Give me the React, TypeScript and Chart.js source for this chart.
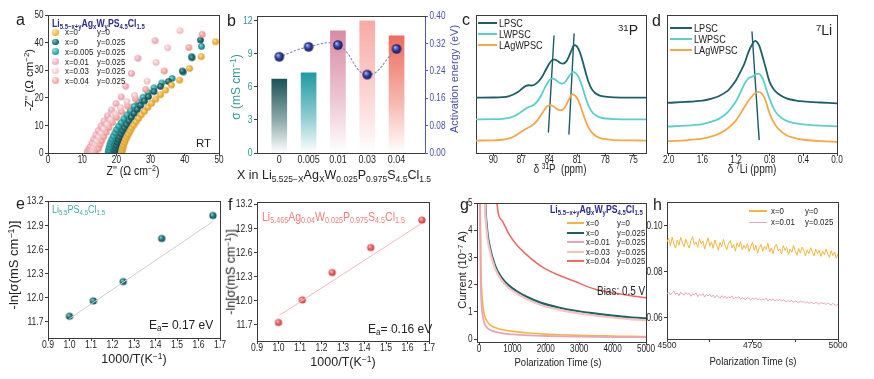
import React, { useEffect, useRef } from "react";
import { Chart, registerables } from "chart.js";
Chart.register(...registerables);

const FONT = "'Liberation Sans',Arial,sans-serif";

// ---------------- Panel a : Nyquist plots (Z', -Z'') ----------------
const NYQ_X0_Y0: number[][] = [[21.6,0.2],[21.7,1.0],[21.9,1.9],[22.1,2.8],[22.4,3.8],[22.7,4.8],[23.1,5.8],[23.5,6.8],[24.0,7.9],[24.5,9.0],[25.1,10.1],[25.8,11.3],[26.5,12.5],[27.3,13.8],[28.2,15.1],[29.2,16.5],[30.3,18.0],[31.5,19.5],[32.9,21.1],[34.4,22.8],[36.1,24.6],[38.5,26.4],[41.4,30.6],[44.8,34.9],[49.0,40.3]];
const NYQ_X0_Y025: number[][] = [[19.5,0.2],[19.6,1.0],[19.8,1.9],[20.0,2.8],[20.3,3.8],[20.6,4.8],[21.0,5.8],[21.4,6.9],[21.9,8.0],[22.4,9.1],[23.0,10.3],[23.7,11.6],[24.4,12.9],[25.2,14.3],[26.1,15.7],[27.1,17.2],[28.2,18.8],[29.4,20.4],[31.0,22.2],[32.9,24.1],[35.2,25.9],[39.3,29.7],[42.1,34.5],[44.6,40.9]];
const NYQ_X005: number[][] = [[17.6,0.2],[17.7,1.0],[17.9,2.0],[18.1,3.0],[18.4,4.0],[18.7,5.0],[19.1,6.1],[19.6,7.3],[20.1,8.5],[20.7,9.7],[21.4,11.0],[22.2,12.4],[23.1,13.8],[24.1,15.3],[25.2,16.9],[26.4,18.5],[27.8,20.2],[29.3,21.9],[31.0,23.6],[33.3,25.4],[36.3,27.0],[39.6,29.3],[42.0,35.0],[44.9,38.6]];
const NYQ_X01: number[][] = [[12.0,0.3],[12.2,1.3],[12.5,2.4],[12.9,3.6],[13.4,5.0],[14.0,6.5],[14.7,8.1],[15.5,9.8],[16.4,11.6],[17.4,13.5],[18.6,15.6],[19.9,17.9],[21.4,20.3],[22.7,24.2],[24.4,28.8],[26.3,34.3],[31.3,40.7]];
const NYQ_X03: number[][] = [[12.8,0.2],[13.0,1.1],[13.3,2.1],[13.7,3.2],[14.2,4.4],[14.8,5.8],[15.5,7.2],[16.3,8.8],[17.2,10.4],[18.3,12.2],[19.6,14.2],[21.2,16.4],[23.1,18.6],[25.3,20.9],[29.0,26.0],[31.6,32.8],[35.0,38.1],[38.6,44.3]];
const NYQ_X04: number[][] = [[11.5,0.5],[12.0,1.5],[13.0,1.0],[14.0,0.8],[14.8,1.6],[15.2,3.0],[15.7,4.4],[16.3,5.9],[17.0,7.5],[17.8,9.2],[18.8,11.0],[20.0,12.9],[21.5,14.9],[23.3,17.0],[25.6,19.6],[28.6,23.0],[34.0,29.7],[41.2,38.2],[45.1,43.0]];
const A_TICKS = [0, 10, 20, 30, 40, 50];

// ---------------- Panel b : conductivity bars + activation energy ----------------
const B_CATS = ["0", "0.005", "0.01", "0.03", "0.04"];
const B_SIGMA = [6.69, 7.26, 11.06, 11.96, 10.6];
const B_EA = [0.281, 0.310, 0.315, 0.229, 0.304];
const B_SIGMA_TICKS = [0, 3, 6, 9, 12];
const B_EA_TICKS = [0, 0.08, 0.16, 0.24, 0.32, 0.4];

// ---------------- Panel c : 31P NMR ----------------
const P31_LPSC: number[][] = [[92,40.1],[90,40.2],[89,40.5],[88.3,41.3],[87.8,42.6],[87.3,44.6],[86.9,46.8],[86.5,48.6],[86.2,49.1],[85.9,48.9],[85.6,49.5],[85.2,51.5],[84.8,55.0],[84.4,60.0],[84.0,64.8],[83.7,67.3],[83.4,67.6],[83.1,66.6],[82.8,65.2],[82.5,64.8],[82.2,66.2],[81.9,70.0],[81.6,74.8],[81.4,77.6],[81.2,78.0],[81.0,76.8],[80.7,72.5],[80.4,65.8],[80.1,58.2],[79.8,51.5],[79.5,46.8],[79.1,43.5],[78.6,41.6],[78.0,40.8],[77.0,40.3],[75,40.1],[73.6,40.1]];
const P31_LWPSC: number[][] = [[92,24.4],[90,24.5],[89,24.8],[88.3,25.5],[87.8,26.6],[87.3,28.4],[86.9,30.4],[86.5,32.3],[86.1,33.5],[85.7,34.8],[85.3,37.2],[84.9,41.5],[84.5,47.0],[84.1,51.8],[83.8,53.8],[83.5,53.7],[83.2,52.3],[82.9,50.8],[82.6,50.3],[82.3,51.5],[82.0,54.5],[81.7,57.6],[81.5,58.7],[81.3,58.5],[81.0,56.5],[80.7,52.5],[80.4,46.5],[80.1,39.8],[79.8,34.3],[79.5,30.5],[79.1,27.6],[78.6,25.8],[78.0,25.0],[77.0,24.6],[75,24.4],[73.6,24.4]];
const P31_LAGWPSC: number[][] = [[92,9.0],[90,9.2],[89,9.6],[88.3,10.6],[87.8,12.0],[87.3,14.0],[86.9,15.9],[86.5,17.5],[86.1,19.0],[85.7,20.8],[85.3,23.5],[84.9,27.5],[84.5,31.5],[84.2,34.0],[83.9,34.7],[83.6,34.0],[83.3,32.4],[83.0,31.2],[82.7,31.0],[82.4,32.5],[82.1,36.0],[81.8,40.0],[81.6,42.2],[81.4,42.3],[81.1,40.5],[80.8,36.5],[80.5,30.8],[80.2,24.8],[79.9,19.8],[79.6,16.2],[79.2,13.2],[78.7,11.2],[78.0,10.0],[77.0,9.4],[75,9.1],[73.6,9.0]];
const P31_GUIDE1: number[][] = [[84.1,15.2],[83.5,84.8]];
const P31_GUIDE2: number[][] = [[81.9,13.8],[81.35,86.2]];
const P31_TICKS = [90, 87, 84, 81, 78, 75];

// ---------------- Panel d : 7Li NMR ----------------
const LI7_LPSC: number[][] = [[2.0,36.4],[1.8,37.0],[1.6,38.0],[1.5,39.3],[1.4,41.3],[1.3,45.0],[1.25,48.5],[1.2,52.7],[1.15,58.5],[1.1,64.8],[1.05,73.5],[1.0,79.5],[0.97,81.2],[0.93,78.5],[0.9,73.2],[0.85,62.3],[0.8,51.4],[0.75,46.0],[0.7,43.0],[0.6,39.6],[0.5,38.2],[0.4,37.4],[0.2,36.6],[0.0,36.0]];
const LI7_LWPSC: number[][] = [[2.0,19.2],[1.8,19.8],[1.6,21.0],[1.5,22.5],[1.4,24.9],[1.3,29.5],[1.2,37.5],[1.15,43.5],[1.1,50.0],[1.05,54.3],[1.0,55.5],[0.96,57.2],[0.92,57.3],[0.88,53.5],[0.85,48.0],[0.8,39.0],[0.75,32.0],[0.7,27.5],[0.6,23.3],[0.5,21.6],[0.4,20.7],[0.2,19.8],[0.0,19.3]];
const LI7_LAGWPSC: number[][] = [[2.0,8.6],[1.8,9.2],[1.6,10.4],[1.5,11.8],[1.4,14.0],[1.3,17.7],[1.2,23.7],[1.15,28.3],[1.1,33.3],[1.05,38.0],[1.0,41.8],[0.96,43.8],[0.92,44.2],[0.88,42.0],[0.85,38.2],[0.8,28.5],[0.75,22.0],[0.7,17.7],[0.6,12.8],[0.5,10.8],[0.4,9.6],[0.2,8.6],[0.0,8.1]];
const LI7_GUIDE: number[][] = [[1.01,87.7],[0.925,9.7]];
const LI7_TICKS = [2.0, 1.6, 1.2, 0.8, 0.4, 0.0];

// ---------------- Panels e, f : Arrhenius ----------------
const INV_T = [1.0, 1.111, 1.25, 1.429, 1.667];
const E_LNSIG = [11.77, 11.96, 12.2, 12.735, 13.02];
const E_FIT: number[][] = [[1.0, 11.74], [1.664, 12.94]];
const F_LNSIG = [11.73, 12.01, 12.35, 12.66, 13.0];
const F_FIT: number[][] = [[1.005, 11.82], [1.66, 12.95]];
const EF_XTICKS = [0.9, 1.0, 1.1, 1.2, 1.3, 1.4, 1.5, 1.6, 1.7];
const EF_YTICKS = [11.7, 12.0, 12.3, 12.6, 12.9, 13.2];

// ---------------- Panel g : polarization current ----------------
const G_X0_Y0: number[][] = [[20,9],[40,4.5],[60,2.6],[80,1.8],[100,1.4],[150,0.95],[200,0.75],[300,0.56],[400,0.47],[500,0.41],[700,0.34],[1000,0.28],[1500,0.22],[2000,0.18],[2500,0.155],[3000,0.135],[3500,0.12],[4000,0.11],[4500,0.097],[5000,0.09]];
const G_X0_Y025: number[][] = [[150,9],[185,5.3],[230,4.2],[330,3.35],[480,2.7],[680,2.25],[880,1.98],[1100,1.78],[1380,1.58],[1880,1.32],[2380,1.16],[2880,1.04],[3380,0.95],[4000,0.86],[4500,0.8],[5000,0.76]];
const G_X001: number[][] = [[12,9],[30,4.4],[50,2.2],[70,1.4],[100,0.95],[150,0.62],[200,0.48],[300,0.36],[400,0.3],[500,0.26],[700,0.21],[1000,0.17],[1500,0.13],[2000,0.11],[2500,0.095],[3000,0.085],[3500,0.078],[4000,0.072],[4500,0.069],[5000,0.065]];
const G_X003: number[][] = [[140,9],[175,5.3],[220,4.12],[320,3.27],[470,2.62],[670,2.17],[870,1.9],[1100,1.7],[1380,1.5],[1880,1.24],[2380,1.08],[2880,0.97],[3380,0.88],[4000,0.79],[4500,0.73],[5000,0.69]];
const G_X004: number[][] = [[470,9],[530,5.1],[680,4.37],[880,3.89],[1100,3.5],[1380,3.15],[1880,2.66],[2380,2.35],[2880,2.11],[3480,1.83],[4000,1.7],[4500,1.6],[5000,1.52]];
const G_XTICKS = [0, 1000, 2000, 3000, 4000, 5000];
const G_YTICKS = [0, 1, 2, 3, 4, 5];

// ---------------- Panel h : zoomed polarization current ----------------
const H_TIME = [4500,4505,4510,4515,4520,4525,4530,4535,4540,4545,4550,4555,4560,4565,4570,4575,4580,4585,4590,4595,4600,4605,4610,4615,4620,4625,4630,4635,4640,4645,4650,4655,4660,4665,4670,4675,4680,4685,4690,4695,4700,4705,4710,4715,4720,4725,4730,4735,4740,4745,4750,4755,4760,4765,4770,4775,4780,4785,4790,4795,4800,4805,4810,4815,4820,4825,4830,4835,4840,4845,4850,4855,4860,4865,4870,4875,4880,4885,4890,4895,4900,4905,4910,4915,4920,4925,4930,4935,4940,4945,4950,4955,4960,4965,4970,4975,4980,4985,4990,4995,5000];
const H_X0_Y0 = [0.0930,0.0945,0.0912,0.0950,0.0921,0.0902,0.0938,0.0915,0.0949,0.0927,0.0908,0.0941,0.0919,0.0903,0.0936,0.0952,0.0917,0.0929,0.0906,0.0943,0.0921,0.0934,0.0898,0.0925,0.0947,0.0911,0.0930,0.0901,0.0938,0.0915,0.0893,0.0927,0.0909,0.0940,0.0912,0.0896,0.0923,0.0935,0.0904,0.0918,0.0889,0.0926,0.0907,0.0931,0.0895,0.0914,0.0900,0.0922,0.0887,0.0910,0.0928,0.0893,0.0915,0.0880,0.0904,0.0919,0.0889,0.0911,0.0897,0.0924,0.0885,0.0903,0.0877,0.0908,0.0920,0.0890,0.0899,0.0878,0.0913,0.0893,0.0906,0.0874,0.0898,0.0884,0.0915,0.0889,0.0871,0.0901,0.0880,0.0907,0.0892,0.0869,0.0895,0.0878,0.0904,0.0886,0.0868,0.0898,0.0879,0.0893,0.0866,0.0890,0.0873,0.0899,0.0877,0.0862,0.0891,0.0870,0.0885,0.0858,0.0876];
const H_X001_Y025 = [0.0704,0.0712,0.0698,0.0709,0.0716,0.0701,0.0707,0.0695,0.0711,0.0703,0.0697,0.0710,0.0700,0.0706,0.0693,0.0704,0.0699,0.0708,0.0691,0.0702,0.0696,0.0705,0.0689,0.0700,0.0694,0.0703,0.0690,0.0698,0.0686,0.0697,0.0692,0.0684,0.0696,0.0688,0.0693,0.0683,0.0691,0.0686,0.0695,0.0681,0.0689,0.0684,0.0692,0.0680,0.0687,0.0682,0.0679,0.0688,0.0683,0.0676,0.0685,0.0680,0.0686,0.0677,0.0683,0.0675,0.0681,0.0678,0.0684,0.0673,0.0680,0.0676,0.0682,0.0672,0.0678,0.0674,0.0680,0.0671,0.0677,0.0673,0.0668,0.0676,0.0670,0.0675,0.0667,0.0673,0.0669,0.0665,0.0672,0.0667,0.0670,0.0664,0.0669,0.0662,0.0668,0.0665,0.0660,0.0667,0.0663,0.0658,0.0666,0.0661,0.0664,0.0657,0.0663,0.0659,0.0655,0.0662,0.0657,0.0653,0.0658];
const H_XTICKS = [4500, 4625, 4750, 4875, 5000];
const H_XLABELS = ["4500", "", "4750", "", "5000"];
const H_YTICKS = [0.06, 0.08, 0.1];

// ---------------- colours ----------------
const C_YEL = "#f4b63f";
const C_DTEAL = "#1d5f66";
const C_PINK = "#e9a4ba";
const C_LPINK = "#f6c3c0";
const C_RED = "#ee6a68";
const C_LWPSC = "#5ccfcb";
const C_LAG = "#f5a84a";
const C_NAVY = "#2b2d8c";
const AXIS = "#3a3a3a";

// ---------------- helpers ----------------
const pts = (arr: number[][]) => arr.map(([x, y]) => ({ x, y }));

function sphere(r: number, base: string, light: string, dark: string) {
  const c = document.createElement("canvas");
  const s = Math.ceil(r * 2) + 2;
  c.width = s; c.height = s;
  const g = c.getContext("2d")!;
  const cx = s / 2, cy = s / 2;
  const grad = g.createRadialGradient(cx - r * 0.35, cy - r * 0.4, r * 0.05, cx, cy, r);
  grad.addColorStop(0, light);
  grad.addColorStop(0.55, base);
  grad.addColorStop(1, dark);
  g.fillStyle = grad;
  g.beginPath(); g.arc(cx, cy, r, 0, Math.PI * 2); g.fill();
  return c;
}

const framePlugin = {
  id: "frame",
  afterDraw(chart: any, _a: any, opts: any) {
    const { ctx, chartArea: a } = chart;
    ctx.save();
    ctx.strokeStyle = AXIS; ctx.lineWidth = 1;
    ctx.beginPath();
    const top = Math.round(a.top) + 0.5;
    ctx.moveTo(Math.round(a.left), top); ctx.lineTo(Math.round(a.right) + 1, top);
    if (opts.right !== false) {
      const r = Math.round(a.right) + 0.5;
      ctx.moveTo(r, a.top); ctx.lineTo(r, Math.round(a.bottom) + 1);
    }
    ctx.stroke();
    ctx.restore();
  },
};

// tick labels drawn from the scales' own ticks, horizontally condensed like the source figure
type Lbl = { size?: number; color?: string; sx?: number; gap?: number; fmt?: (v: number, i: number) => string };
function labelPlugin(labels: Record<string, Lbl>) {
  return {
    id: "tickLabels",
    afterDraw(chart: any) {
      const ctx = chart.ctx;
      for (const id of Object.keys(labels)) {
        const s = chart.scales[id];
        const o = labels[id];
        if (!s) continue;
        ctx.save();
        ctx.fillStyle = o.color || "#1e1e1e";
        ctx.font = `${o.size || 10}px ${FONT}`;
        ctx.textBaseline = "middle";
        s.ticks.forEach((t: any, i: number) => {
          const txt = o.fmt ? o.fmt(t.value, i) : String(t.value);
          if (!txt) return;
          const p = s.getPixelForValue(t.value);
          ctx.save();
          if (s.isHorizontal()) { ctx.translate(p, s.top + (o.gap ?? 7)); ctx.textAlign = "center"; }
          else if (s.position === "left") { ctx.translate(s.right - (o.gap ?? 4.5), p + 0.5); ctx.textAlign = "right"; }
          else { ctx.translate(s.left + (o.gap ?? 4.5), p + 0.5); ctx.textAlign = "left"; }
          ctx.scale(o.sx ?? 0.82, 1);
          ctx.fillText(txt, 0, 0);
          ctx.restore();
        });
        ctx.restore();
      }
    },
  };
}

function ax(p: any) {
  const line = p.line || AXIS;
  return {
    type: "linear",
    position: p.pos,
    min: p.min, max: p.max, reverse: !!p.rev, offset: false,
    afterBuildTicks: (s: any) => { s.ticks = (p.ticks || []).map((v: number) => ({ value: v })); },
    afterFit: (s: any) => { if (p.pos === "bottom") s.height = p.fit; else s.width = p.fit; },
    ticks: { display: false },
    grid: { drawOnChartArea: false, drawTicks: p.marks !== false, tickLength: 3, color: line, tickColor: line },
    border: { display: true, color: line, width: 1 },
  };
}

type Pad = [number, number, number, number];
function baseOpts(pad: Pad, scales: any, rightAxis = false) {
  return {
    responsive: false, animation: false, events: [],
    layout: { padding: { left: 0, top: pad[1], right: rightAxis ? 0 : pad[2], bottom: 0 } },
    plugins: { legend: { display: false }, tooltip: { enabled: false }, frame: { right: !rightAxis } },
    elements: { line: { borderJoinStyle: "round", borderCapStyle: "round" } },
    scales,
  };
}

type Built = { config: any; labels: Record<string, Lbl> };
function ChartBox({ box, pad, make }: { box: number[]; pad: Pad; make: (pad: Pad) => Built }) {
  const ref = useRef<HTMLCanvasElement>(null);
  const [L, T, R, B] = box;
  const [pl, pt, pr, pb] = pad;
  const w = R - L + pl + pr, h = B - T + pt + pb;
  useEffect(() => {
    const { config, labels } = make(pad);
    config.plugins = [framePlugin, labelPlugin(labels)];
    const chart = new Chart(ref.current as HTMLCanvasElement, config);
    return () => chart.destroy();
  }, []);
  return <canvas ref={ref} width={w} height={h} style={{ position: "absolute", left: L - pl, top: T - pt, width: w, height: h }} />;
}

// ---------------- chart builders ----------------
function makeA(pad: Pad): Built {
  const ds = (arr: number[][], img: HTMLCanvasElement) => ({ data: pts(arr), showLine: false, pointStyle: img, pointRadius: 3.3 });
  return {
    config: {
      type: "line",
      data: {
        datasets: [
          ds(NYQ_X03, sphere(3.3, "#f8ccd0", "#fff2f3", "#e8afb5")),
          ds(NYQ_X01, sphere(3.3, "#f3b4c1", "#fde4ea", "#df94a5")),
          ds(NYQ_X04, sphere(3.3, "#f6aba5", "#fde0dc", "#e48a83")),
          ds(NYQ_X0_Y0, sphere(3.3, "#f2b741", "#fde7b0", "#d49520")),
          ds(NYQ_X0_Y025, sphere(3.3, "#1f6b70", "#79bcbe", "#0d4246")),
          ds(NYQ_X005, sphere(3.3, "#2aa6a8", "#98e0e0", "#157679")),
        ],
      },
      options: baseOpts(pad, {
        x: ax({ pos: "bottom", min: 0, max: 50, ticks: A_TICKS, fit: pad[3] }),
        y: ax({ pos: "left", min: 0, max: 50, ticks: A_TICKS, fit: pad[0] }),
      }),
    },
    labels: { x: {}, y: {} },
  };
}

const B_COLORS = ["#1b5356", "#1f9aa2", "#d98ba5", "#f8aaa5", "#ee6c5c"];
function makeB(pad: Pad): Built {
  const gradFill = (ctx: any) => {
    const chart = ctx.chart;
    const ca = chart.chartArea;
    const col = B_COLORS[ctx.dataIndex] || B_COLORS[0];
    if (!ca || ctx.type !== "data") return col;
    const top = chart.scales.y.getPixelForValue(B_SIGMA[ctx.dataIndex]);
    const g = chart.ctx.createLinearGradient(0, top, 0, ca.bottom);
    g.addColorStop(0, col);
    g.addColorStop(0.55, col + "80");
    g.addColorStop(1, col + "00");
    return g;
  };
  return {
    config: {
      type: "bar",
      data: {
        datasets: [
          {
            type: "line", yAxisID: "y2", order: 0,
            data: B_EA.map((v, i) => ({ x: i + 1, y: v })),
            borderColor: "#8b90b8", borderWidth: 1.2, borderDash: [1.5, 2.5], tension: 0.45,
            pointStyle: sphere(4.8, "#2f3c9e", "#b3bcf2", "#141a5a"), pointRadius: 4.8,
          },
          {
            type: "bar", yAxisID: "y", order: 1,
            data: B_SIGMA.map((v, i) => ({ x: i + 1, y: v })),
            backgroundColor: gradFill, barThickness: 15, borderWidth: 0,
          },
        ],
      },
      options: baseOpts(pad, {
        x: ax({ pos: "bottom", min: 0.24, max: 5.97, ticks: [1, 2, 3, 4, 5], fit: pad[3], marks: false }),
        y: ax({ pos: "left", min: 0, max: 12.4, ticks: B_SIGMA_TICKS, fit: pad[0] }),
        y2: ax({ pos: "right", min: 0, max: 0.4, ticks: B_EA_TICKS, fit: pad[2], line: "#5058a8" }),
      }, true),
    },
    labels: {
      x: { size: 10.5, sx: 0.85, gap: 7, fmt: (v: number) => B_CATS[Math.round(v) - 1] },
      y: { size: 10.5, color: "#2f979b" },
      y2: { size: 10, color: "#4a50a6", fmt: (v: number) => v.toFixed(2) },
    },
  };
}

function specLines(sets: [number[][], string][], guides: number[][][]) {
  return [
    ...sets.map(([arr, col]) => ({ data: pts(arr), borderColor: col, borderWidth: 1.8, pointRadius: 0, tension: 0.35 })),
    ...guides.map((g) => ({ data: pts(g), borderColor: "#1d5a6a", borderWidth: 1.4, pointRadius: 0, tension: 0 })),
  ];
}

function makeC(pad: Pad): Built {
  return {
    config: {
      type: "line",
      data: { datasets: specLines([[P31_LAGWPSC, C_LAG], [P31_LWPSC, C_LWPSC], [P31_LPSC, C_DTEAL]], [P31_GUIDE1, P31_GUIDE2]) },
      options: baseOpts(pad, {
        x: ax({ pos: "bottom", min: 73.64, max: 91.86, rev: true, ticks: P31_TICKS, fit: pad[3] }),
        y: ax({ pos: "left", min: 0, max: 100, ticks: [], fit: pad[0], marks: false }),
      }),
    },
    labels: { x: {} },
  };
}

function makeD(pad: Pad): Built {
  return {
    config: {
      type: "line",
      data: { datasets: specLines([[LI7_LAGWPSC, C_LAG], [LI7_LWPSC, C_LWPSC], [LI7_LPSC, C_DTEAL]], [LI7_GUIDE]) },
      options: baseOpts(pad, {
        x: ax({ pos: "bottom", min: 0, max: 2.02, rev: true, ticks: LI7_TICKS, fit: pad[3] }),
        y: ax({ pos: "left", min: 0, max: 100, ticks: [], fit: pad[0], marks: false }),
      }),
    },
    labels: { x: { fmt: (v: number) => v.toFixed(1) } },
  };
}

function makeArr(pad: Pad, vals: number[], fit: number[][], img: HTMLCanvasElement, fitCol: string, ymax: number): Built {
  return {
    config: {
      type: "line",
      data: {
        datasets: [
          { data: pts(fit), borderColor: fitCol, borderWidth: 1, pointRadius: 0, tension: 0 },
          { data: vals.map((v, i) => ({ x: INV_T[i], y: v })), showLine: false, pointStyle: img, pointRadius: 3.6 },
        ],
      },
      options: baseOpts(pad, {
        x: ax({ pos: "bottom", min: 0.9, max: 1.7, ticks: EF_XTICKS, fit: pad[3] }),
        y: ax({ pos: "left", min: 11.5, max: ymax, ticks: EF_YTICKS, fit: pad[0] }),
      }),
    },
    labels: { x: { size: 10.5, fmt: (v: number) => v.toFixed(1) }, y: { size: 10.5, fmt: (v: number) => v.toFixed(1) } },
  };
}

function makeG(pad: Pad): Built {
  const ln = (arr: number[][], col: string, w: number) => ({ data: pts(arr), borderColor: col, borderWidth: w, pointRadius: 0, tension: 0.4, cubicInterpolationMode: "monotone" });
  return {
    config: {
      type: "line",
      data: {
        datasets: [
          ln(G_X003, C_LPINK, 2.2),
          ln(G_X0_Y025, C_DTEAL, 2.2),
          ln(G_X001, C_PINK, 1.8),
          ln(G_X0_Y0, C_YEL, 1.6),
          ln(G_X004, C_RED, 1.6),
        ],
      },
      options: baseOpts(pad, {
        x: ax({ pos: "bottom", min: -60, max: 5000, ticks: G_XTICKS, fit: pad[3] }),
        y: ax({ pos: "left", min: -0.11, max: 5, ticks: G_YTICKS, fit: pad[0] }),
      }),
    },
    labels: { x: {}, y: {} },
  };
}

function makeH(pad: Pad): Built {
  const ln = (vals: number[], col: string) => ({ data: vals.map((v, i) => ({ x: H_TIME[i], y: v })), borderColor: col, borderWidth: 1, pointRadius: 0, tension: 0 });
  return {
    config: {
      type: "line",
      data: { datasets: [ln(H_X001_Y025, C_PINK), ln(H_X0_Y0, C_YEL)] },
      options: baseOpts(pad, {
        x: ax({ pos: "bottom", min: 4500, max: 5000, ticks: H_XTICKS, fit: pad[3] }),
        y: ax({ pos: "left", min: 0.0507, max: 0.1103, ticks: H_YTICKS, fit: pad[0] }),
      }),
    },
    labels: { x: { size: 8.5, sx: 1, fmt: (_v: number, i: number) => H_XLABELS[i] }, y: { fmt: (v: number) => v.toFixed(2) } },
  };
}

// ---------------- text helpers ----------------
const Sub = ({ children }: any) => <span style={{ fontSize: "0.68em", position: "relative", top: "0.3em" }}>{children}</span>;
const Sup = ({ children }: any) => <span style={{ fontSize: "0.68em", position: "relative", top: "-0.45em" }}>{children}</span>;

function Txt({ x, y, size = 12, color = "#222", anchor = "c", rot = false, bold = false, sx = 1, children }: any) {
  let tf: string, origin: string;
  if (rot) { tf = "translate(-50%,-50%) rotate(-90deg)"; origin = "center"; }
  else if (anchor === "l") { tf = `translate(0,-50%) scaleX(${sx})`; origin = "left center"; }
  else { tf = `translate(-50%,-50%) scaleX(${sx})`; origin = "center"; }
  return (
    <div style={{ position: "absolute", left: x, top: y, transform: tf, transformOrigin: origin, fontSize: size, color, fontWeight: bold ? 700 : 400, whiteSpace: "nowrap", lineHeight: 1, fontFamily: FONT }}>
      {children}
    </div>
  );
}

const LineKey = ({ x, y, w, color, h = 2 }: any) => (
  <div style={{ position: "absolute", left: x, top: y - h / 2, width: w, height: h, background: color }} />
);
const DotKey = ({ x, y, base, light }: any) => (
  <div style={{ position: "absolute", left: x - 3.3, top: y - 3.3, width: 6.6, height: 6.6, borderRadius: "50%", background: `radial-gradient(circle at 35% 30%, ${light} 0%, ${base} 60%)` }} />
);

const LiFormula = () => (
  <>Li<Sub>5.5−x+y</Sub>Ag<Sub>x</Sub>W<Sub>y</Sub>PS<Sub>4.5</Sub>Cl<Sub>1.5</Sub></>
);

export default function App() {
  const boxA = [48, 15, 219, 153];
  const boxB = [257, 16, 425, 153];
  const boxC = [476, 15, 646, 153];
  const boxD = [667, 15, 837, 153];
  const boxE = [48, 201, 220, 338];
  const boxF = [257, 202, 429, 341];
  const boxG = [477, 203, 646, 342];
  const boxH = [667, 202, 838, 339];
  const aLeg: [string, string, string, string][] = [
    ["x=0", "y=0", "#f2b741", "#fde7b0"],
    ["x=0", "y=0.025", "#1f6b70", "#79bcbe"],
    ["x=0.005", "y=0.025", "#2aa6a8", "#98e0e0"],
    ["x=0.01", "y=0.025", "#f3b4c1", "#fde4ea"],
    ["x=0.03", "y=0.025", "#f8ccd0", "#fff2f3"],
    ["x=0.04", "y=0.025", "#f6aba5", "#fde0dc"],
  ];
  const aRows = [32.3, 42, 51.7, 61.7, 71, 80.7];
  const gLeg: [string, string, string][] = [
    ["x=0", "y=0", C_YEL],
    ["x=0", "y=0.025", C_DTEAL],
    ["x=0.01", "y=0.025", C_PINK],
    ["x=0.03", "y=0.025", C_LPINK],
    ["x=0.04", "y=0.025", C_RED],
  ];
  const gRows = [223.3, 232.7, 242.3, 251.7, 261];
  const specLeg: [string, string][] = [["LPSC", C_DTEAL], ["LWPSC", C_LWPSC], ["LAgWPSC", C_LAG]];
  const SX = 0.83;
  return (
    <div style={{ position: "absolute", left: 0, top: 0, width: 874, height: 379, background: "#fff", overflow: "hidden", fontFamily: FONT }}>
      <ChartBox box={boxA} pad={[36, 8, 12, 20]} make={makeA} />
      <ChartBox box={boxB} pad={[30, 8, 38, 20]} make={makeB} />
      <ChartBox box={boxC} pad={[10, 8, 12, 20]} make={makeC} />
      <ChartBox box={boxD} pad={[10, 8, 12, 20]} make={makeD} />
      <ChartBox box={boxE} pad={[36, 8, 12, 20]} make={(p: Pad) => makeArr(p, E_LNSIG, E_FIT, sphere(3.6, "#1f7b7e", "#8fd3d3", "#0c4749"), "#cfcfcf", 13.2)} />
      <ChartBox box={boxF} pad={[36, 8, 12, 20]} make={(p: Pad) => makeArr(p, F_LNSIG, F_FIT, sphere(3.6, "#ec6262", "#ffc6c6", "#c23a3a"), "#f6b9b9", 13.225)} />
      <ChartBox box={boxG} pad={[20, 8, 14, 20]} make={makeG} />
      <ChartBox box={boxH} pad={[30, 8, 14, 20]} make={makeH} />

      {/* panel letters */}
      <Txt x={16} y={20} size={16} anchor="l">a</Txt>
      <Txt x={227} y={21} size={16} anchor="l">b</Txt>
      <Txt x={462} y={20} size={16} anchor="l">c</Txt>
      <Txt x={652} y={21} size={16} anchor="l">d</Txt>
      <Txt x={16} y={204} size={16} anchor="l">e</Txt>
      <Txt x={228} y={205} size={16} anchor="l">f</Txt>
      <Txt x={460} y={205} size={16} anchor="l">g</Txt>
      <Txt x={653} y={205} size={16} anchor="l">h</Txt>

      {/* panel a */}
      <Txt x={30} y={80} size={11.5} rot>-Z'' (Ω cm<Sup>−2</Sup>)</Txt>
      <Txt x={133} y={171} size={12} sx={0.87}>Z'' (Ω cm<Sup>−2</Sup>)</Txt>
      <Txt x={52} y={24} size={10.5} anchor="l" bold color={C_NAVY} sx={SX}><LiFormula /></Txt>
      {aLeg.map((r, i) => (
        <React.Fragment key={"a" + i}>
          <DotKey x={55.5} y={aRows[i]} base={r[2]} light={r[3]} />
          <Txt x={65} y={aRows[i]} size={9.5} anchor="l" sx={SX}>{r[0]}</Txt>
          <Txt x={96.5} y={aRows[i]} size={9.5} anchor="l" sx={SX}>{r[1]}</Txt>
        </React.Fragment>
      ))}
      <Txt x={203.5} y={144} size={11.5}>RT</Txt>

      {/* panel b */}
      <Txt x={236} y={87} size={12} rot color="#2f979b">σ (mS cm<Sup>−1</Sup>)</Txt>
      <Txt x={454} y={79} size={11} rot color="#4a50a6">Activation energy (eV)</Txt>
      <Txt x={334} y={175} size={12.5}>X in Li<Sub>5.525−X</Sub>Ag<Sub>X</Sub>W<Sub>0.025</Sub>P<Sub>0.975</Sub>S<Sub>4.5</Sub>Cl<Sub>1.5</Sub></Txt>

      {/* panel c */}
      {specLeg.map((r, i) => (
        <React.Fragment key={"c" + i}>
          <LineKey x={478} y={[23.3, 34, 45][i]} w={19} color={r[1]} />
          <Txt x={498.5} y={[23.3, 34, 45][i]} size={11} anchor="l" sx={SX}>{r[0]}</Txt>
        </React.Fragment>
      ))}
      <Txt x={628} y={30} size={14}><Sup>31</Sup>P</Txt>
      <Txt x={560} y={169} size={12} sx={0.81}>δ <Sup>31</Sup>P&nbsp;&nbsp;(ppm)</Txt>

      {/* panel d */}
      {specLeg.map((r, i) => (
        <React.Fragment key={"d" + i}>
          <LineKey x={670} y={[28.3, 39.3, 50][i]} w={22} color={r[1]} />
          <Txt x={694} y={[28.3, 39.3, 50][i]} size={11} anchor="l" sx={SX}>{r[0]}</Txt>
        </React.Fragment>
      ))}
      <Txt x={824} y={30} size={14}><Sup>7</Sup>Li</Txt>
      <Txt x={752} y={169} size={12} sx={0.83}>δ <Sup>7</Sup>Li (ppm)</Txt>

      {/* panel e */}
      <Txt x={13} y={265} size={13} rot>-ln[σ(mS cm<Sup>−1</Sup>)]</Txt>
      <Txt x={134} y={359} size={12.5}>1000/T(K<Sup>−1</Sup>)</Txt>
      <Txt x={52} y={210} size={10} anchor="l" color="#45a8a8" sx={0.9}>Li<Sub>5.5</Sub>PS<Sub>4.5</Sub>Cl<Sub>1.5</Sub></Txt>
      <Txt x={149} y={325} size={12} anchor="l">E<Sub>a</Sub>= 0.17 eV</Txt>

      {/* panel f */}
      <Txt x={231} y={272} size={12.5} rot>-ln[σ(mS cm<Sup>−1</Sup>)]</Txt>
      <Txt x={343} y={361.5} size={12.5}>1000/T(K<Sup>−1</Sup>)</Txt>
      <Txt x={262} y={216.5} size={12} anchor="l" color="#f07e7e" sx={0.88}>Li<Sub>5.465</Sub>Ag<Sub>0.04</Sub>W<Sub>0.025</Sub>P<Sub>0.975</Sub>S<Sub>4.5</Sub>Cl<Sub>1.5</Sub></Txt>
      <Txt x={368} y={329} size={12} anchor="l">E<Sub>a</Sub>= 0.16 eV</Txt>

      {/* panel g */}
      <Txt x={462} y={270} size={11} rot>Current (10<Sup>−7</Sup> A)</Txt>
      <Txt x={558} y={363} size={11.5} sx={0.83}>Polarization Time (s)</Txt>
      <Txt x={550} y={210} size={10.5} anchor="l" bold color={C_NAVY} sx={SX}><LiFormula /></Txt>
      {gLeg.map((r, i) => (
        <React.Fragment key={"g" + i}>
          <LineKey x={567} y={gRows[i]} w={17} color={r[2]} />
          <Txt x={586} y={gRows[i]} size={9.5} anchor="l" sx={SX}>{r[0]}</Txt>
          <Txt x={617} y={gRows[i]} size={9.5} anchor="l" sx={SX}>{r[1]}</Txt>
        </React.Fragment>
      ))}
      <Txt x={597} y={291} size={12} anchor="l" sx={SX}>Bias: 0.5 V</Txt>

      {/* panel h */}
      <Txt x={753} y={362} size={11.5} sx={0.83}>Polarization Time (s)</Txt>
      <LineKey x={749} y={211} w={18} color={C_YEL} h={1.2} />
      <Txt x={770.5} y={211} size={9.5} anchor="l" sx={SX}>x=0</Txt>
      <Txt x={805} y={211} size={9.5} anchor="l" sx={SX}>y=0</Txt>
      <LineKey x={749} y={222.3} w={18} color={C_PINK} h={1.2} />
      <Txt x={770.5} y={222.3} size={9.5} anchor="l" sx={SX}>x=0.01</Txt>
      <Txt x={805} y={222.3} size={9.5} anchor="l" sx={SX}>y=0.025</Txt>
    </div>
  );
}
